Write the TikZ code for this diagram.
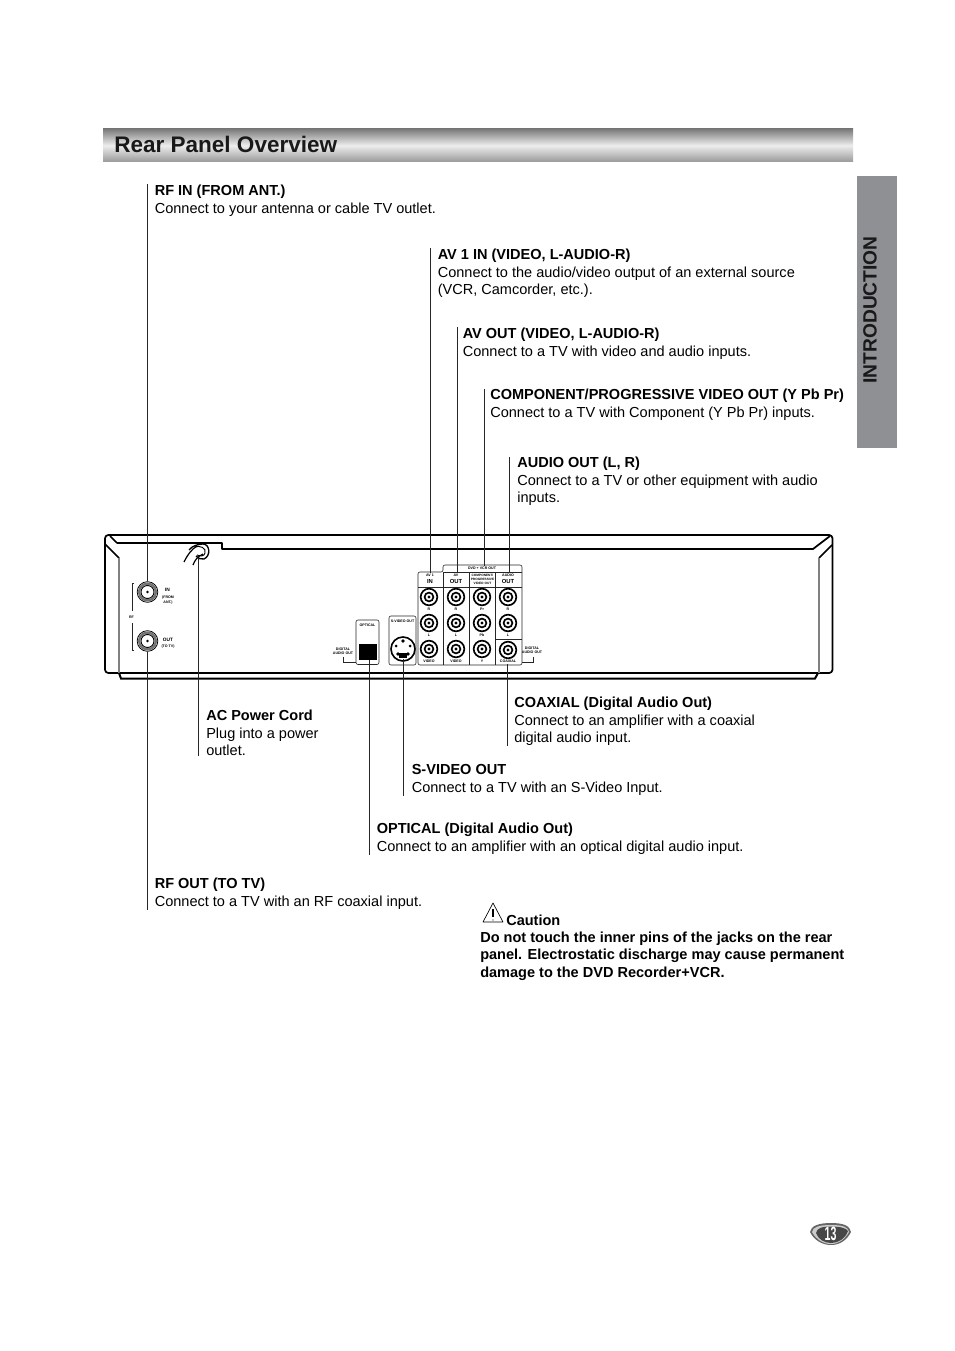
\documentclass[tikz,border=0pt]{standalone}
\usepackage{fontspec}
\setmainfont{Liberation Sans}
\usetikzlibrary{calc}
\definecolor{tabgray}{HTML}{8E9094}
\tikzset{
	panelline/.style={line width=1.3pt, line join=round},
	thinline/.style={line width=0.45pt, draw=black!85},
	leadline/.style={line width=0.55pt, draw=black!85},
	lbl/.style={anchor=north west, inner sep=0pt, align=left, font=\fontsize{10.9}{13.3}\selectfont},
	boldlbl/.style={lbl, font=\bfseries\fontsize{10.9}{13.2}\selectfont},
	tinylbl/.style={inner sep=0pt, align=center, font=\bfseries\fontsize{2.7}{3.3}\selectfont},
	biglbl/.style={inner sep=0pt, align=center, font=\bfseries\fontsize{4.4}{5}\selectfont},
	rcajack/.style={circle, draw, fill=white, line width=1.25pt, minimum size=12.5pt, inner sep=0pt},
	rcacore/.style={circle, draw, line width=1.25pt, minimum size=6.6pt, inner sep=0pt},
	rfjack/.style={circle, draw, fill=white, line width=0.6pt, minimum size=15.5pt, inner sep=0pt},
	rfcore/.style={circle, draw=black!55, line width=1.7pt, minimum size=12.6pt, inner sep=0pt}
}
\begin{document}
\begin{tikzpicture}[x=0.75pt, y=-0.75pt]
	\useasboundingbox (0,0) rectangle (954,1351);
	\shade[top color=black!52, bottom color=black!40, middle color=black!7, shading angle=0] (103,129) rectangle (853,162);
	\node[anchor=west, inner sep=0pt, font=\bfseries\fontsize{16.9}{20}\selectfont, text=black!90] (title) at (114,144) {Rear Panel Overview};
	\fill[tabgray] (857,176) rectangle (897,448);
	\node[rotate=90, inner sep=0pt, font=\bfseries\fontsize{14.4}{16}\selectfont, text=black!90] (tabtext) at (870,310) {INTRODUCTION};

	\draw[panelline, rounded corners=2.5pt] (105,535) rectangle (832.5,673);
	\draw[panelline] (117,543) -- (222,543) -- (222,549) -- (813,549) -- (830,536);
	\draw[panelline] (110,536) -- (117,543);
	\draw[panelline] (105,544) -- (119,558);
	\draw[panelline] (819,558) -- (832,545);
	\draw[line width=0.8pt, draw=black!50] (119,558) -- (119,673);
	\draw[line width=0.8pt, draw=black!50] (819,558) -- (819,673);
	\draw[line width=1.5pt] (119,673) -- (121,678.5) -- (815,678.5) -- (818,673);

	\draw[line width=1pt] (189,550) .. controls (192,546) and (198,544) .. (203,544) .. controls (210,544) and (211,556) .. (204,559) .. controls (201,560) and (198,558) .. (196,556);
	\draw[line width=0.7pt] (195,547) .. controls (199,545) and (207,548) .. (205,553) .. controls (204,557) and (200,556) .. (197,555);
	\draw[line width=0.9pt] (184,562) .. controls (188,554) and (192,549) .. (197,546);
	\draw[line width=0.9pt] (193,565) .. controls (195,560) and (197,557) .. (203,554);
	\coordinate (cordend) at (198.5,558);

	\node[rfjack] (jrfin) at (147.5,592) {};
	\node[rfjack] (jrfout) at (147.5,641) {};
	\foreach \j in {jrfin,jrfout} {
		\node[rfcore] at (\j) {};
		\draw[line width=0.7pt, fill=white] (\j) circle (6.5);
		\fill (\j) circle (1.3);
	}
	\draw[thinline] (134,583.5) -- (132,583.5) -- (132,611);
	\draw[thinline] (132,623) -- (132,650.5) -- (134,650.5);
	\node[tinylbl] (lrf) at (131.5,617) {RF};
	\node[biglbl, font=\bfseries\fontsize{3.6}{4}\selectfont] (lin) at (167.5,589.5) {IN};
	\node[tinylbl] (lfrom) at (168,600) {(FROM\\ANT.)};
	\node[biglbl, font=\bfseries\fontsize{3.6}{4}\selectfont] (lout) at (168,639.5) {OUT};
	\node[tinylbl] (ltotv) at (168,647) {(TO TV)};

	\draw[thinline, rounded corners=1.5pt] (418,665) -- (418,572) -- (443,572) -- (443,565) -- (522,565) -- (522,665) -- cycle;
	\draw[thinline] (443,572) -- (443,665);
	\draw[thinline] (469.5,572) -- (469.5,665);
	\draw[thinline] (495.5,572) -- (495.5,665);
	\draw[thinline] (443,572) -- (522,572);
	\draw[thinline] (418,587) -- (522,587);
	\draw[thinline] (495.5,639) -- (522,639);
	\node[tinylbl] (ldvd) at (482,568.5) {DVD + VCR OUT};
	\node[tinylbl] (lav1) at (430,575.5) {AV 1};
	\node[biglbl] (lav1in) at (430,581.5) {IN};
	\node[tinylbl] (lav) at (456,575.5) {AV};
	\node[biglbl] (lavout) at (456,581.5) {OUT};
	\node[tinylbl, font=\bfseries\fontsize{2.4}{2.9}\selectfont] (lcomp) at (482.5,579.5) {COMPONENT/\\PROGRESSIVE\\VIDEO OUT};
	\node[tinylbl] (laudio) at (508,575.5) {AUDIO};
	\node[biglbl] (laudioout) at (508,581.5) {OUT};

	\node[rcajack] (javinr) at (429,597) {};
	\node[rcajack] (javinl) at (429,623) {};
	\node[rcajack] (javinv) at (429,649) {};
	\node[rcajack] (javoutr) at (456,597) {};
	\node[rcajack] (javoutl) at (456,623) {};
	\node[rcajack] (javoutv) at (456,649) {};
	\node[rcajack] (jpr) at (482,597) {};
	\node[rcajack] (jpb) at (482,623) {};
	\node[rcajack] (jy) at (482,649) {};
	\node[rcajack] (jaudr) at (508,597) {};
	\node[rcajack] (jaudl) at (508,623) {};
	\node[rcajack] (jcoax) at (508,650) {};
	\foreach \j in {javinr,javinl,javinv,javoutr,javoutl,javoutv,jpr,jpb,jy,jaudr,jaudl,jcoax} {
		\node[rcacore] at (\j) {};
		\fill (\j) circle (1.6);
	}
	\node[tinylbl] (t1) at (429,609.5) {R};
	\node[tinylbl] (t2) at (429,635.5) {L};
	\node[tinylbl] (t3) at (429,661) {VIDEO};
	\node[tinylbl] (t4) at (456,609.5) {R};
	\node[tinylbl] (t5) at (456,635.5) {L};
	\node[tinylbl] (t6) at (456,661) {VIDEO};
	\node[tinylbl] (t7) at (482,609.5) {Pr};
	\node[tinylbl] (t8) at (482,635.5) {Pb};
	\node[tinylbl] (t9) at (482,661) {Y};
	\node[tinylbl] (t10) at (508,609.5) {R};
	\node[tinylbl] (t11) at (508,635.5) {L};
	\node[tinylbl] (t12) at (508,661.5) {COAXIAL};

	\draw[thinline, rounded corners=1.5pt] (356,620) rectangle (379,664.5);
	\fill (359,644) rectangle (377,660);
	\coordinate (optend) at (369,660);
	\node[tinylbl] (lopt) at (367.5,625) {OPTICAL};
	\draw[thinline, rounded corners=1.5pt] (389,616) rectangle (416,665);
	\node[tinylbl] (lsv) at (402.5,621.5) {S-VIDEO OUT};
	\node[circle, draw, line width=1.2pt, minimum size=18pt, inner sep=0pt] (jsv) at (403,649) {};
	\fill (399,653) rectangle (407,658);
	\fill (403,641) circle (1.8);
	\fill (396,646) circle (1.5);
	\fill (410,646) circle (1.5);
	\fill (398,654) circle (1.8);
	\fill (408,654) circle (1.8);
	\coordinate (svend) at (403.5,659);

	\node[tinylbl] (ldigl) at (343,651) {DIGITAL\\AUDIO OUT};
	\draw[thinline] (343.5,656.5) -- (343.5,662) -- (356,662);
	\node[tinylbl] (ldigr) at (532,650.5) {DIGITAL\\AUDIO OUT};
	\draw[thinline] (533,656.5) -- (533,662) -- (522,662);

	\node[lbl] (rfin) at (154.5,184.5) {\textbf{RF IN (FROM ANT.)}\\Connect to your antenna or cable TV outlet.};
	\node[lbl] (avin) at (437.5,248.5) {\textbf{AV 1 IN (VIDEO, L-AUDIO-R)}\\Connect to the audio/video output of an external source\\(VCR, Camcorder, etc.).};
	\node[lbl] (avout) at (462.5,327.5) {\textbf{AV OUT (VIDEO, L-AUDIO-R)}\\Connect to a TV with video and audio inputs.};
	\node[lbl] (comp) at (490,388.5) {\textbf{COMPONENT/PROGRESSIVE VIDEO OUT (Y Pb Pr)}\\Connect to a TV with Component (Y Pb Pr) inputs.};
	\node[lbl] (audio) at (517,456.5) {\textbf{AUDIO OUT (L, R)}\\Connect to a TV or other equipment with audio\\inputs.};
	\node[lbl] (coax) at (514,696.5) {\textbf{COAXIAL (Digital Audio Out)}\\Connect to an amplifier with a coaxial\\digital audio input.};
	\node[lbl] (ac) at (206,709.5) {\textbf{AC Power Cord}\\Plug into a power\\outlet.};
	\node[lbl] (svideo) at (411.5,764.5) {\textbf{S-VIDEO OUT}\\Connect to a TV with an S-Video Input.};
	\node[lbl] (optical) at (376.5,823) {\textbf{OPTICAL (Digital Audio Out)}\\Connect to an amplifier with an optical digital audio input.};
	\node[lbl] (rfout) at (154.5,878) {\textbf{RF OUT (TO TV)}\\Connect to a TV with an RF coaxial input.};
	\node[boldlbl] (caution) at (506,914.5) {Caution};
	\node[boldlbl] (warn) at (480,931.5) {Do not touch the inner pins of the jacks on the rear\\panel. Electrostatic discharge may cause permanent\\damage to the DVD Recorder+VCR.};

	\draw[line width=0.5pt, line join=round] (493,903) -- (503,922) -- (483,922) -- cycle;
	\draw[line width=0.8pt] (493,909) -- (493,917);
	\fill (493,920) circle (0.6);

	\draw[leadline] (jrfin.north) -- (jrfin.north |- rfin.north);
	\draw[leadline] (jrfout.south) -- (jrfout.south |- rfout.south);
	\coordinate (avintop) at (430,573);
	\coordinate (avouttop) at (457,573);
	\coordinate (comptop) at (484,566);
	\coordinate (audiotop) at (509,573);
	\draw[leadline] (avintop) -- (avintop |- avin.north);
	\draw[leadline] (avouttop) -- (avouttop |- avout.north);
	\draw[leadline] (comptop) -- (comptop |- comp.north);
	\draw[leadline] (audiotop) -- (audiotop |- audio.north);
	\draw[leadline] (cordend) -- (cordend |- ac.south);
	\draw[leadline] (optend) -- (optend |- optical.south);
	\draw[leadline] (svend) -- (svend |- svideo.south);
	\coordinate (coaxend) at (507.5,664);
	\draw[leadline] (coaxend) -- (coaxend |- coax.south);

	\fill[black!60] (810,1232) .. controls (811,1226) and (818,1223) .. (831,1223) .. controls (844,1223) and (850,1226) .. (851,1232) .. controls (847,1240) and (840,1245) .. (831,1245) .. controls (822,1245) and (814,1240) .. (810,1232) -- cycle;
	\fill[black!20] (812,1232) .. controls (813,1227) and (819,1225) .. (831,1225) .. controls (843,1225) and (848,1227) .. (849,1232) .. controls (845,1239) and (839,1244) .. (831,1244) .. controls (823,1244) and (816,1239) .. (812,1232) -- cycle;
	\fill[black!72] (816,1233) .. controls (817,1228) and (822,1226.5) .. (831,1226.5) .. controls (840,1226.5) and (846,1228) .. (848,1231) .. controls (845,1239) and (838,1243) .. (831,1243) .. controls (824,1243) and (818,1239) .. (816,1233) -- cycle;
	\node[inner sep=0pt, text=white, xscale=0.55, font=\bfseries\fontsize{14.5}{15}\selectfont] (pagenum) at (830.5,1234) {13};
\end{tikzpicture}
\end{document}
